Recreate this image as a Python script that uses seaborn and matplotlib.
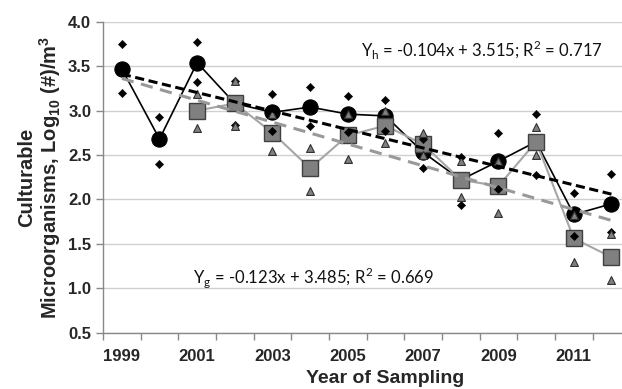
import numpy as np
import pandas as pd
import seaborn as sns
import matplotlib.pyplot as plt
from matplotlib.ticker import FixedLocator, FormatStrFormatter

# dados
anos = list(range(1999, 2013))
media_h = [3.47, 2.68, 3.54, 3.08, 2.98, 3.04, 2.96, 2.94, 2.53, 2.22, 2.43, 2.65, 1.83, 1.95]
max_h = [3.75, 2.93, 3.77, 3.33, 3.19, 3.26, 3.16, 3.12, 2.68, 2.48, 2.75, 2.96, 2.07, 2.29]
min_h = [3.20, 2.40, 3.32, 2.84, 2.77, 2.83, 2.76, 2.77, 2.35, 1.94, 2.12, 2.28, 1.59, 1.63]
media_g = [np.nan, np.nan, 3.00, 3.08, 2.75, 2.35, 2.72, 2.83, 2.62, 2.22, 2.15, 2.65, 1.56, 1.35]
max_g = [np.nan, np.nan, 3.19, 3.33, 2.96, 2.58, 2.96, 3.00, 2.75, 2.43, 2.43, 2.81, 1.82, 1.61]
min_g = [np.nan, np.nan, 2.80, 2.83, 2.54, 2.09, 2.46, 2.64, 2.50, 2.03, 1.85, 2.50, 1.29, 1.09]

# tendencias (equacoes mostradas no grafico)
incl_h, inter_h = -0.104, 3.515
incl_g, inter_g = -0.123, 3.485

df = pd.DataFrame({'pos': np.arange(len(anos)), 'ano': anos,
                   'media_h': media_h, 'max_h': max_h, 'min_h': min_h,
                   'media_g': media_g, 'max_g': max_g, 'min_g': min_g})
df['tend_h'] = incl_h * (df['pos'] + 1) + inter_h
df['tend_g'] = incl_g * (df['pos'] + 1) + inter_g

sns.set_theme(style='white')
plt.rcParams['font.family'] = ['Liberation Sans', 'DejaVu Sans']

fig, ax = plt.subplots(figsize=(6.22, 3.89), dpi=100)
fig.subplots_adjust(left=0.1656, right=1.0, bottom=0.145, top=0.944)

ax.yaxis.grid(True, color='#d0d0d0', lw=1)
ax.set_axisbelow(True)

# serie h (circulos pretos)
sns.lineplot(data=df, x='pos', y='media_h', ax=ax, color='black', lw=1.2,
             marker='o', markersize=11, markeredgecolor='black', zorder=3)
# serie g (quadrados cinza)
d_g = df.dropna(subset=['media_g'])
sns.lineplot(data=d_g, x='pos', y='media_g', ax=ax, color='#a6a6a6', lw=1.5, zorder=4)
sns.lineplot(data=d_g, x='pos', y='media_g', ax=ax, color='#808080', lw=0,
             marker='s', markersize=11.5, markeredgecolor='#404040', markeredgewidth=1, zorder=4)

# extremos
for col in ['max_h', 'min_h']:
    sns.scatterplot(data=df, x='pos', y=col, ax=ax, marker='D', s=18,
                    color='black', edgecolor='black', zorder=5)
for col in ['max_g', 'min_g']:
    sns.scatterplot(data=d_g, x='pos', y=col, ax=ax, marker='^', s=32,
                    color='#808080', edgecolor='#303030', linewidth=0.8, zorder=5)

# linhas de tendencia
sns.lineplot(data=df, x='pos', y='tend_h', ax=ax, color='black', lw=2.2,
             linestyle=(0, (3, 1.5)), zorder=6)
sns.lineplot(data=df, x='pos', y='tend_g', ax=ax, color='#999999', lw=2.2,
             linestyle=(0, (4, 2.5)), zorder=6)

ax.text(9.56, 3.68, 'Y$_\\mathregular{h}$ = -0.104x + 3.515; R$^\\mathregular{2}$ = 0.717',
        family='Lato', fontsize=12, ha='center', va='center', color='#111111')
ax.text(1.9, 1.125, 'Y$_\\mathregular{g}$ = -0.123x + 3.485; R$^\\mathregular{2}$ = 0.669',
        family='Lato', fontsize=12, ha='left', va='center', color='#111111')

ax.set_xlim(-0.5, 13.28)
ax.set_ylim(0.5, 4.0)
ax.set_yticks(np.arange(0.5, 4.01, 0.5))
ax.yaxis.set_major_formatter(FormatStrFormatter('%.1f'))
ax.set_xticks(df['pos'][::2])
ax.set_xticklabels([str(a) for a in anos[::2]])
ax.xaxis.set_minor_locator(FixedLocator(np.arange(-0.5, 14, 1)))
ax.tick_params(axis='x', which='major', length=0, pad=12, labelsize=12)
ax.tick_params(axis='x', which='minor', length=5, color='#888888', width=1, direction='out', bottom=True)
ax.tick_params(axis='y', length=5, color='#888888', width=1, direction='out', left=True, labelsize=12)
for lbl in ax.get_xticklabels() + ax.get_yticklabels():
    lbl.set_fontweight('bold')

for s in ['top', 'right']:
    ax.spines[s].set_visible(False)
for s in ['left', 'bottom']:
    ax.spines[s].set_color('#888888')
    ax.spines[s].set_linewidth(1)

ax.set_xlabel('Year of Sampling', fontsize=14, fontweight='bold')
ax.xaxis.set_label_coords(0.543, -0.119)
ax.set_ylabel('Culturable\nMicroorganisms, Log$_\\mathregular{10}$ (#)/m$^\\mathregular{3}$',
              fontsize=14.5, fontweight='bold', labelpad=4, linespacing=1.0)

plt.savefig('out.png', dpi=100)
